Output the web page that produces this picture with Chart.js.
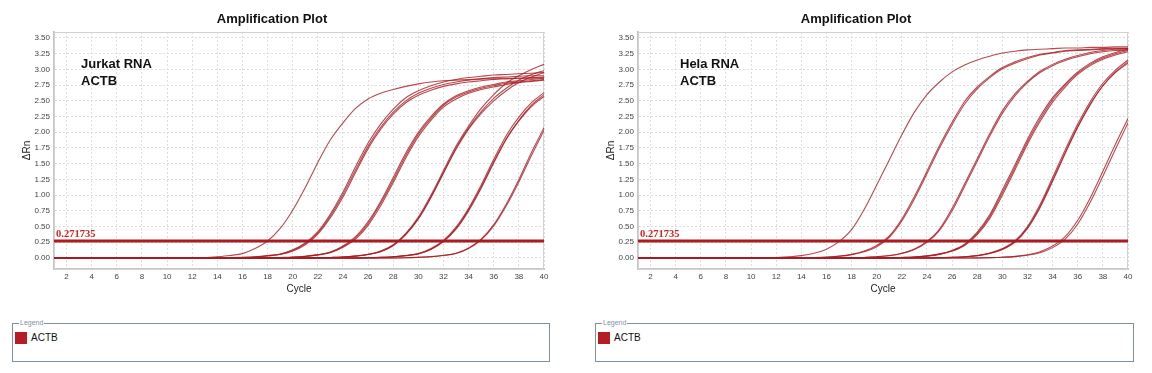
<!DOCTYPE html>
<html><head><meta charset="utf-8">
<script src="https://cdn.jsdelivr.net/npm/chart.js@4.4.1/dist/chart.umd.min.js"></script>
<style>
body{margin:0;width:1152px;height:373px;background:#fff;position:relative;overflow:hidden;font-family:"Liberation Sans",Arial,sans-serif}
.plot{position:absolute;top:0}
.note{position:absolute;top:55px;font:bold 13px "Liberation Sans",Arial,sans-serif;line-height:17px;color:#111}
.lg{position:absolute;top:323px;height:39px;border:1px solid #7f90a4;box-sizing:border-box}
.lg .t{position:absolute;left:6px;top:-5px;background:#fff;padding:0 1px;font-size:7px;line-height:8px;color:#7f90a4}
.lg .sw{position:absolute;left:2px;top:8px;width:12px;height:12px;background:#b71c24}
.lg .nm{position:absolute;left:18px;top:8px;font-size:10px;line-height:12px;color:#111}
</style></head>
<body>
<canvas id="jurkat" class="plot" width="560" height="300" style="left:0"></canvas>
<canvas id="hela" class="plot" width="560" height="300" style="left:584px"></canvas>
<div class="note" style="left:81px">Jurkat RNA<br>ACTB</div>
<div class="note" style="left:680px">Hela RNA<br>ACTB</div>
<div class="lg" style="left:12px;width:538px"><span class="t">Legend</span><span class="sw"></span><span class="nm">ACTB</span></div>
<div class="lg" style="left:595px;width:539px"><span class="t">Legend</span><span class="sw"></span><span class="nm">ACTB</span></div>
<script>
const cycles=[1,2,3,4,5,6,7,8,9,10,11,12,13,14,15,16,17,18,19,20,21,22,23,24,25,26,27,28,29,30,31,32,33,34,35,36,37,38,39,40];
const xTicks=[2,4,6,8,10,12,14,16,18,20,22,24,26,28,30,32,34,36,38,40];
const yTicks=[0,0.25,0.5,0.75,1,1.25,1.5,1.75,2,2.25,2.5,2.75,3,3.25,3.5];
const threshold=0.271735;

// Jurkat RNA, ACTB - one row per well
const jurkat=[
 [0,0,0,0,0,0,0,0,0,0,0,0,0.005,0.02,0.04,0.07,0.15,0.27,0.47,0.76,1.12,1.52,1.88,2.15,2.38,2.53,2.62,2.68,2.73,2.77,2.80,2.82,2.83,2.84,2.85,2.85,2.86,2.86,2.86,2.87],
 [0,0,0,0,0,0,0,0,0,0,0,0,0,0,0.005,0.01,0.02,0.04,0.065,0.13,0.24,0.42,0.70,1.05,1.45,1.83,2.13,2.37,2.55,2.66,2.74,2.80,2.84,2.87,2.89,2.91,2.92,2.93,2.94,2.95],
 [0,0,0,0,0,0,0,0,0,0,0,0,0,0,0.005,0.009,0.017,0.035,0.06,0.12,0.23,0.40,0.67,1.01,1.40,1.78,2.08,2.32,2.50,2.62,2.70,2.76,2.80,2.83,2.85,2.87,2.88,2.89,2.90,2.90],
 [0,0,0,0,0,0,0,0,0,0,0,0,0,0,0.004,0.008,0.015,0.032,0.055,0.11,0.21,0.38,0.64,0.97,1.36,1.74,2.05,2.29,2.47,2.59,2.67,2.73,2.77,2.80,2.82,2.84,2.85,2.86,2.87,2.88],
 [0,0,0,0,0,0,0,0,0,0,0,0,0,0,0,0,0,0.003,0.008,0.014,0.028,0.053,0.095,0.19,0.34,0.58,0.90,1.28,1.67,2.00,2.25,2.45,2.58,2.66,2.72,2.76,2.80,2.82,2.84,2.86],
 [0,0,0,0,0,0,0,0,0,0,0,0,0,0,0,0,0,0.002,0.007,0.013,0.026,0.05,0.09,0.18,0.32,0.55,0.87,1.24,1.63,1.97,2.22,2.43,2.56,2.64,2.70,2.74,2.78,2.80,2.82,2.84],
 [0,0,0,0,0,0,0,0,0,0,0,0,0,0,0,0,0,0.002,0.006,0.012,0.024,0.047,0.085,0.17,0.30,0.52,0.83,1.20,1.59,1.93,2.19,2.40,2.53,2.62,2.68,2.72,2.76,2.79,2.81,2.83],
 [0,0,0,0,0,0,0,0,0,0,0,0,0,0,0,0,0,0,0,0,0,0.004,0.009,0.016,0.032,0.058,0.11,0.21,0.39,0.65,1.00,1.39,1.78,2.10,2.38,2.60,2.78,2.90,3.00,3.08],
 [0,0,0,0,0,0,0,0,0,0,0,0,0,0,0,0,0,0,0,0,0,0.004,0.008,0.015,0.03,0.055,0.105,0.20,0.38,0.63,0.97,1.36,1.75,2.07,2.33,2.54,2.70,2.83,2.92,2.98],
 [0,0,0,0,0,0,0,0,0,0,0,0,0,0,0,0,0,0,0,0,0,0.003,0.008,0.015,0.03,0.055,0.10,0.20,0.37,0.62,0.96,1.35,1.73,2.05,2.30,2.50,2.66,2.79,2.88,2.95],
 [0,0,0,0,0,0,0,0,0,0,0,0,0,0,0,0,0,0,0,0,0,0,0,0,0,0.005,0.01,0.02,0.04,0.07,0.15,0.28,0.49,0.79,1.16,1.57,1.95,2.24,2.47,2.63],
 [0,0,0,0,0,0,0,0,0,0,0,0,0,0,0,0,0,0,0,0,0,0,0,0,0,0.004,0.01,0.02,0.038,0.068,0.14,0.27,0.47,0.77,1.13,1.53,1.90,2.18,2.41,2.57],
 [0,0,0,0,0,0,0,0,0,0,0,0,0,0,0,0,0,0,0,0,0,0,0,0,0,0.004,0.009,0.018,0.036,0.065,0.135,0.26,0.46,0.75,1.11,1.51,1.89,2.19,2.43,2.60],
 [0,0,0,0,0,0,0,0,0,0,0,0,0,0,0,0,0,0,0,0,0,0,0,0,0,0,0,0.001,0.005,0.011,0.022,0.043,0.076,0.16,0.30,0.53,0.86,1.25,1.68,2.07],
 [0,0,0,0,0,0,0,0,0,0,0,0,0,0,0,0,0,0,0,0,0,0,0,0,0,0,0,0.001,0.004,0.01,0.02,0.04,0.072,0.15,0.29,0.51,0.83,1.21,1.63,2.03]
];

// Hela RNA, ACTB - one row per well
const hela=[
 [0,0,0,0,0,0,0,0,0,0,0.004,0.009,0.019,0.038,0.075,0.14,0.26,0.45,0.77,1.16,1.56,1.96,2.32,2.60,2.80,2.96,3.07,3.15,3.21,3.26,3.29,3.31,3.32,3.33,3.34,3.34,3.35,3.35,3.36,3.36],
 [0,0,0,0,0,0,0,0,0,0,0,0,0,0.003,0.007,0.015,0.03,0.058,0.11,0.20,0.35,0.62,0.98,1.38,1.79,2.16,2.49,2.72,2.89,3.03,3.12,3.19,3.24,3.27,3.30,3.31,3.32,3.33,3.34,3.34],
 [0,0,0,0,0,0,0,0,0,0,0,0,0,0.003,0.006,0.013,0.027,0.054,0.10,0.18,0.33,0.59,0.94,1.34,1.75,2.12,2.45,2.69,2.87,3.01,3.10,3.17,3.23,3.26,3.29,3.30,3.31,3.32,3.33,3.33],
 [0,0,0,0,0,0,0,0,0,0,0,0,0,0,0,0,0,0.004,0.009,0.02,0.039,0.077,0.145,0.265,0.46,0.79,1.18,1.58,1.98,2.34,2.61,2.81,2.97,3.08,3.16,3.22,3.27,3.30,3.32,3.33],
 [0,0,0,0,0,0,0,0,0,0,0,0,0,0,0,0,0,0.004,0.009,0.018,0.037,0.073,0.135,0.25,0.44,0.75,1.14,1.54,1.94,2.30,2.58,2.79,2.95,3.06,3.14,3.20,3.25,3.28,3.30,3.31],
 [0,0,0,0,0,0,0,0,0,0,0,0,0,0,0,0,0,0,0,0,0.004,0.009,0.017,0.034,0.065,0.12,0.22,0.41,0.69,1.08,1.48,1.89,2.25,2.55,2.77,2.96,3.10,3.20,3.27,3.32],
 [0,0,0,0,0,0,0,0,0,0,0,0,0,0,0,0,0,0,0,0,0.004,0.008,0.016,0.032,0.062,0.115,0.21,0.39,0.66,1.04,1.44,1.85,2.21,2.52,2.75,2.94,3.08,3.18,3.25,3.30],
 [0,0,0,0,0,0,0,0,0,0,0,0,0,0,0,0,0,0,0,0,0.003,0.008,0.015,0.03,0.058,0.11,0.20,0.37,0.63,1.00,1.40,1.81,2.17,2.48,2.72,2.92,3.06,3.16,3.23,3.28],
 [0,0,0,0,0,0,0,0,0,0,0,0,0,0,0,0,0,0,0,0,0,0,0,0,0.005,0.01,0.02,0.04,0.08,0.15,0.27,0.50,0.85,1.28,1.72,2.13,2.49,2.78,2.99,3.15],
 [0,0,0,0,0,0,0,0,0,0,0,0,0,0,0,0,0,0,0,0,0,0,0,0,0.004,0.01,0.019,0.038,0.075,0.14,0.26,0.48,0.82,1.24,1.68,2.09,2.45,2.74,2.95,3.10],
 [0,0,0,0,0,0,0,0,0,0,0,0,0,0,0,0,0,0,0,0,0,0,0,0,0.004,0.009,0.018,0.036,0.072,0.135,0.25,0.47,0.80,1.22,1.66,2.08,2.44,2.74,2.96,3.12],
 [0,0,0,0,0,0,0,0,0,0,0,0,0,0,0,0,0,0,0,0,0,0,0,0,0,0,0,0.002,0.006,0.013,0.026,0.052,0.10,0.19,0.34,0.60,0.96,1.38,1.81,2.22],
 [0,0,0,0,0,0,0,0,0,0,0,0,0,0,0,0,0,0,0,0,0,0,0,0,0,0,0,0.001,0.005,0.011,0.022,0.045,0.085,0.165,0.30,0.54,0.89,1.30,1.73,2.15]
];

// box round the plot area + threshold value label
const frame={
  id:'frame',
  beforeDatasetsDraw(c){
    const a=c.chartArea,x=c.ctx;
    x.save();x.strokeStyle='#d2d2d2';x.lineWidth=1;
    x.strokeRect(a.left+0.5,a.top+0.5,a.right-a.left-1,a.bottom-a.top);
    x.restore();
  },
  afterDatasetsDraw(c){
    const x=c.ctx,y=c.scales.y.getPixelForValue(threshold);
    x.save();x.fillStyle='#d42424';x.font='bold 10.5px "Liberation Serif"';
    x.textBaseline='bottom';x.fillText(threshold.toString(),c.chartArea.left+2,y-1);
    x.restore();
  }
};

function draw(id,curves){
  const ds=curves.map(v=>({
    data:v.map((y,i)=>({x:cycles[i],y:y})),
    borderColor:'rgba(168,28,34,0.8)',borderWidth:1.1,pointRadius:0,
    cubicInterpolationMode:'monotone',fill:false
  }));
  ds.push({data:[{x:cycles[0],y:threshold},{x:cycles[cycles.length-1],y:threshold}],
    borderColor:'#ad1a20',borderWidth:3,pointRadius:0,fill:false});
  new Chart(document.getElementById(id),{
    type:'line',
    data:{datasets:ds},
    plugins:[frame],
    options:{
      responsive:false,animation:false,events:[],
      layout:{padding:{left:0,right:16,top:0,bottom:0}},
      plugins:{
        legend:{display:false},tooltip:{enabled:false},
        title:{display:true,text:'Amplification Plot',color:'#111',
          font:{family:'"Liberation Sans"',size:13,weight:'bold'},padding:{top:12,bottom:4.4}}
      },
      scales:{
        x:{type:'linear',min:1,max:40,
          afterBuildTicks:s=>{s.ticks=xTicks.map(v=>({value:v}));},
          afterFit:s=>{s.height=31;},
          grid:{color:'#dddddd',drawTicks:false},
          border:{color:'#c6c6c6',width:2,dash:[2,2]},
          ticks:{font:{family:'"Liberation Sans"',size:8},color:'#444',padding:3,maxRotation:0},
          title:{display:true,text:'Cycle',color:'#222',font:{family:'"Liberation Sans"',size:10},padding:{top:0,bottom:5}}
        },
        y:{min:-0.175,max:3.595,
          afterBuildTicks:s=>{s.ticks=yTicks.map(v=>({value:v}));},
          afterFit:s=>{s.width=54;},
          grid:{color:'#dddddd',drawTicks:false},
          border:{color:'#c6c6c6',width:2,dash:[2,2]},
          ticks:{font:{family:'"Liberation Sans"',size:8},color:'#444',padding:4,callback:v=>v.toFixed(2)},
          title:{display:true,text:'ΔRn',color:'#222',font:{family:'"Liberation Sans"',size:10},padding:{top:21,bottom:0}}
        }
      }
    }
  });
}

draw('jurkat',jurkat);
draw('hela',hela);
</script>
</body></html>
